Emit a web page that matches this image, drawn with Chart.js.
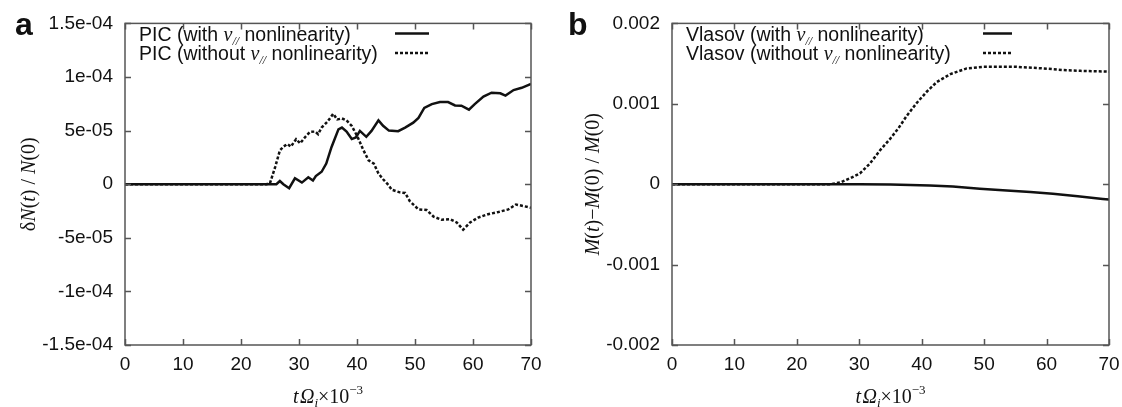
<!DOCTYPE html>
<html>
<head>
<meta charset="utf-8">
<script src="https://cdn.jsdelivr.net/npm/chart.js@4.4.1/dist/chart.umd.min.js"></script>
<style>
  html, body { margin: 0; padding: 0; background: #fff; overflow: hidden; }
  #wrap { position: relative; width: 1122px; height: 407px; overflow: hidden; }
  #chartA { position: absolute; left: 0; top: 0; }
  #chartB { position: absolute; left: 561px; top: 0; }
</style>
</head>
<body>
<div id="wrap">
  <canvas id="chartA" width="561" height="407"></canvas>
  <canvas id="chartB" width="580" height="407"></canvas>
</div>
<script>
// ---- panel a : PIC, dN(t)/N(0) in units of 1e-5 ----
const picWithT = [0, 24, 26.1, 26.7, 27.3, 28.3, 29.3, 30.5, 31.6, 32.4, 32.9, 33.9, 34.7, 35.6, 36.8, 37.4,
  38.2, 39.1, 39.8, 40.5, 41.6, 42.5, 43.7, 44.5, 45.5, 47.1, 48.3, 49.7, 50.6, 51.6, 52.9, 54.3, 55.7,
  56.9, 58.0, 59.3, 60.3, 61.8, 63.2, 64.7, 65.6, 67.0, 68.4, 70];
const picWithV = [0, 0, 0, 0.3, 0, -0.37, 0.55, 0.15, 0.64, 0.34, 0.76, 1.16, 1.92, 3.45, 5.12, 5.28,
  4.91, 4.21, 4.36, 4.97, 4.42, 4.97, 5.95, 5.45, 5.0, 4.95, 5.28, 5.74, 6.19, 7.11, 7.47, 7.66, 7.66,
  7.35, 7.32, 6.95, 7.47, 8.17, 8.54, 8.48, 8.26, 8.78, 8.99, 9.35];

const picWithoutT = [0, 24.4, 25.0, 25.9, 26.7, 27.3, 28.0, 28.6, 29.5, 30.2, 31.0, 31.9, 32.8, 33.3, 33.9,
  34.9, 35.9, 36.6, 37.4, 38.2, 39.1, 40.1, 41.0, 42.0, 42.9, 43.7, 44.5, 45.4, 46.0, 47.4, 48.3, 49.1,
  50.6, 52.0, 53.2, 54.6, 56.0, 57.2, 58.3, 59.5, 60.9, 62.6, 64.4, 66.1, 67.4, 68.7, 70];
const picWithoutV = [0, 0, 0.1, 1.62, 3.14, 3.5, 3.75, 3.5, 4.2, 3.81, 4.36, 4.88, 4.91, 4.67, 5.28,
  5.83, 6.56, 6.04, 6.13, 5.95, 5.43, 4.42, 3.29, 2.22, 1.92, 1.0, 0.46, -0.06, -0.52, -0.76, -0.82, -1.58,
  -2.35, -2.41, -3.02, -3.32, -3.26, -3.57, -4.24, -3.57, -3.11, -2.80, -2.59, -2.35, -1.89, -2.04, -2.2];

// ---- panel b : Vlasov, (M(t)-M(0))/M(0) ----
const vlasovWithT = [0, 30, 35, 41.3, 45, 49.3, 53, 57.4, 61, 65, 69, 70];
const vlasovWithV = [0, 0, -0.000005, -0.000016, -0.00003, -0.000057, -0.000075, -0.000098, -0.00012,
  -0.00015, -0.000183, -0.00019];

const vlasovWithoutT = [0, 25.3, 26.9, 28.5, 30.1, 31.7, 33.3, 34.9, 36.3, 37.6, 39.2, 40.8, 42.4, 44.6,
  47.2, 49.9, 55.2, 59.5, 62.7, 65.4, 70];
const vlasovWithoutV = [0, 0, 0.00002, 0.000073, 0.000134, 0.000256, 0.00042, 0.00056, 0.0007, 0.00085,
  0.00101, 0.00115, 0.00127, 0.00137, 0.00144, 0.00146, 0.00146, 0.00144, 0.00142, 0.00141, 0.0014];

// ---- ticks ----
const xTicks = [0, 10, 20, 30, 40, 50, 60, 70];
const yTicksA = [-15, -10, -5, 0, 5, 10, 15];
const yTickLabelsA = ['-1.5e-04', '-1e-04', '-5e-05', '0', '5e-05', '1e-04', '1.5e-04'];
const yTicksB = [-0.002, -0.001, 0, 0.001, 0.002];
const yTickLabelsB = ['-0.002', '-0.001', '0', '0.001', '0.002'];

const SANS = '"Liberation Sans", Arial, sans-serif';
const SERIF = '"Liberation Serif", "Times New Roman", serif';
const INK = '#111';
const FRAME = '#555';

function pts(t, v) {
  return t.map((x, i) => ({ x: x, y: v[i] }));
}

function drawRich(ctx, segs, x, y) {
  segs.forEach(s => {
    ctx.font = s.f;
    x += s.gap || 0;
    ctx.fillText(s.t, x, y + (s.dy || 0));
    x += ctx.measureText(s.t).width;
  });
  return x;
}

function richWidth(ctx, segs) {
  let w = 0;
  segs.forEach(s => { ctx.font = s.f; w += ctx.measureText(s.t).width + (s.gap || 0); });
  return w;
}

// legend label: split "v//" out so it can be drawn italic with a subscript
function labelSegs(label) {
  const parts = label.split('v//');
  return [
    { t: parts[0], f: '19.5px ' + SANS },
    { t: 'v', f: 'italic 20px ' + SERIF },
    { t: '//', f: 'italic 12px ' + SERIF, dy: 4 },
    { t: parts[1], f: '19.5px ' + SANS }
  ];
}

const xTitle = [
  { t: 't', f: 'italic 20px ' + SERIF },
  { t: 'Ω', f: 'italic 20px ' + SERIF, gap: 1.5 },
  { t: 'i', f: 'italic 13px ' + SERIF, dy: 4 },
  { t: '×10', f: '20px ' + SERIF },
  { t: '−3', f: '13px ' + SERIF, dy: -9 }
];

const yTitleA = [
  { t: 'δ', f: '20px ' + SERIF },
  { t: 'N', f: 'italic 20px ' + SERIF },
  { t: '(', f: '20px ' + SERIF },
  { t: 't', f: 'italic 20px ' + SERIF },
  { t: ') / ', f: '20px ' + SERIF },
  { t: 'N', f: 'italic 20px ' + SERIF },
  { t: '(0)', f: '20px ' + SERIF }
];

const yTitleB = [
  { t: 'M', f: 'italic 20px ' + SERIF },
  { t: '(', f: '20px ' + SERIF },
  { t: 't', f: 'italic 20px ' + SERIF },
  { t: ')−', f: '20px ' + SERIF },
  { t: 'M', f: 'italic 20px ' + SERIF },
  { t: '(0) / ', f: '20px ' + SERIF },
  { t: 'M', f: 'italic 20px ' + SERIF },
  { t: '(0)', f: '20px ' + SERIF }
];

const decor = {
  id: 'decor',
  afterDraw(chart, args, opts) {
    const { ctx, chartArea: a, scales } = chart;
    ctx.save();

    // box with inward ticks on every side
    ctx.strokeStyle = FRAME;
    ctx.lineWidth = 1.5;
    ctx.strokeRect(a.left, a.top, a.right - a.left, a.bottom - a.top);
    ctx.beginPath();
    scales.x.ticks.forEach(t => {
      const px = Math.round(scales.x.getPixelForValue(t.value)) + 0.5;
      ctx.moveTo(px, a.bottom); ctx.lineTo(px, a.bottom - 6);
      ctx.moveTo(px, a.top); ctx.lineTo(px, a.top + 6);
    });
    scales.y.ticks.forEach(t => {
      const py = Math.round(scales.y.getPixelForValue(t.value)) + 0.5;
      ctx.moveTo(a.left, py); ctx.lineTo(a.left + 6, py);
      ctx.moveTo(a.right, py); ctx.lineTo(a.right - 6, py);
    });
    ctx.stroke();

    ctx.fillStyle = INK;
    ctx.textBaseline = 'alphabetic';
    ctx.textAlign = 'left';

    // panel letter
    ctx.font = 'bold 32px ' + SANS;
    ctx.fillText(opts.letter, opts.letterX, 35);

    // legend
    chart.data.datasets.forEach((ds, i) => {
      const y = opts.rowY[i];
      drawRich(ctx, labelSegs(ds.label), a.left + opts.textX, y);
      ctx.beginPath();
      ctx.strokeStyle = ds.borderColor;
      ctx.lineWidth = ds.borderWidth;
      ctx.setLineDash(ds.borderDash || []);
      ctx.moveTo(a.left + opts.sampleX[0], y - 7);
      ctx.lineTo(a.left + opts.sampleX[1], y - 7);
      ctx.stroke();
      ctx.setLineDash([]);
    });

    // x title
    const cx = (a.left + a.right) / 2;
    drawRich(ctx, xTitle, cx - richWidth(ctx, xTitle) / 2, 403);

    // y title, rotated
    ctx.translate(opts.yTitleX, (a.top + a.bottom) / 2);
    ctx.rotate(-Math.PI / 2);
    drawRich(ctx, opts.yTitle, -richWidth(ctx, opts.yTitle) / 2, 7);

    ctx.restore();
  }
};

function makeChart(id, datasets, yMin, yMax, yTicks, yLabels, axisWidth, padRight, decorOpts) {
  return new Chart(document.getElementById(id), {
    type: 'line',
    data: { datasets: datasets },
    options: {
      responsive: false,
      animation: false,
      devicePixelRatio: 1,
      layout: { padding: { left: 0, right: padRight, top: 17, bottom: 0 } },
      elements: { point: { radius: 0 }, line: { tension: 0 } },
      scales: {
        x: {
          type: 'linear',
          min: 0,
          max: 70,
          afterBuildTicks: s => { s.ticks = xTicks.map(v => ({ value: v })); },
          afterFit: s => { s.height = 62; },
          grid: { display: false, drawTicks: false },
          border: { display: false },
          ticks: {
            autoSkip: false,
            maxRotation: 0,
            padding: 8,
            color: INK,
            font: { family: SANS, size: 19 },
            callback: v => String(v)
          }
        },
        y: {
          type: 'linear',
          min: yMin,
          max: yMax,
          afterBuildTicks: s => { s.ticks = yTicks.map(v => ({ value: v })); },
          afterFit: s => { s.width = axisWidth; },
          grid: { display: false, drawTicks: false },
          border: { display: false },
          ticks: {
            autoSkip: false,
            padding: 12,
            color: INK,
            font: { family: SANS, size: 19 },
            callback: v => yLabels[yTicks.indexOf(v)]
          }
        }
      },
      plugins: {
        legend: { display: false },
        tooltip: { enabled: false },
        decor: decorOpts
      }
    },
    plugins: [decor]
  });
}

makeChart('chartA', [
  {
    label: 'PIC (with v// nonlinearity)',
    data: pts(picWithT, picWithV),
    borderColor: INK,
    borderWidth: 2.5,
    fill: false
  },
  {
    label: 'PIC (without v// nonlinearity)',
    data: pts(picWithoutT, picWithoutV),
    borderColor: INK,
    borderWidth: 2.5,
    borderDash: [3, 2],
    fill: false
  }
], -15, 15, yTicksA, yTickLabelsA, 125, 30,
  { letter: 'a', letterX: 15, yTitle: yTitleA, yTitleX: 28, textX: 14, rowY: [40.5, 60], sampleX: [270, 304] });

makeChart('chartB', [
  {
    label: 'Vlasov (with v// nonlinearity)',
    data: pts(vlasovWithT, vlasovWithV),
    borderColor: INK,
    borderWidth: 2.5,
    fill: false
  },
  {
    label: 'Vlasov (without v// nonlinearity)',
    data: pts(vlasovWithoutT, vlasovWithoutV),
    borderColor: INK,
    borderWidth: 2.5,
    borderDash: [3, 2],
    fill: false
  }
], -0.002, 0.002, yTicksB, yTickLabelsB, 111, 32,
  { letter: 'b', letterX: 7, yTitle: yTitleB, yTitleX: 31, textX: 14, rowY: [40.5, 60], sampleX: [311, 340] });
</script>
</body>
</html>
